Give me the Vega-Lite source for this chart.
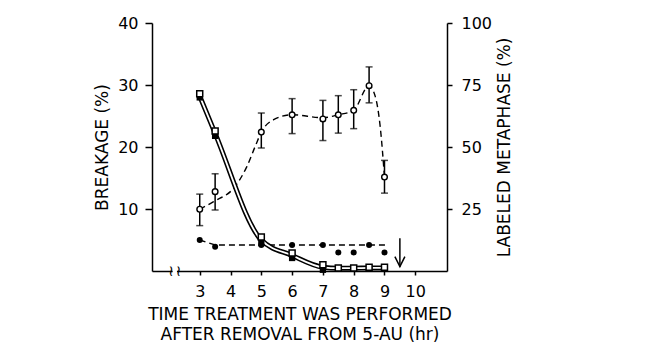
{
  "$schema": "https://vega.github.io/schema/vega-lite/v6.json",
  "width": 295,
  "height": 248,
  "autosize": "none",
  "padding": {"left": 152, "top": 23, "right": 219, "bottom": 79},
  "background": "white",
  "config": {
    "view": {"stroke": null},
    "font": "DejaVu Sans",
    "axis": {
      "grid": false,
      "domainColor": "black",
      "tickColor": "black",
      "labelColor": "black",
      "titleColor": "black",
      "domainWidth": 1.5,
      "tickWidth": 1.5,
      "labelFont": "DejaVu Sans",
      "titleFont": "DejaVu Sans",
      "labelFontSize": 16,
      "titleFontSize": 17,
      "titleFontWeight": "normal"
    }
  },
  "datasets": {
    "labeled": [
      {"t": 3, "m": 24.9, "lo": 18.3, "hi": 31.0},
      {"t": 3.5, "m": 32.0, "lo": 24.6, "hi": 39.2},
      {"t": 5, "m": 56.0, "lo": 49.6, "hi": 63.7},
      {"t": 6, "m": 63.0, "lo": 55.4, "hi": 69.5},
      {"t": 7, "m": 61.3, "lo": 52.6, "hi": 68.8},
      {"t": 7.5, "m": 63.0, "lo": 55.6, "hi": 70.7},
      {"t": 8, "m": 64.8, "lo": 57.4, "hi": 73.1},
      {"t": 8.5, "m": 74.7, "lo": 67.8, "hi": 82.3},
      {"t": 9, "m": 37.9, "lo": 31.4, "hi": 44.6}
    ],
    "labeledCurve": [
      {"t": 3, "m": 24.9},
      {"t": 3.45, "m": 28.0},
      {"t": 4.15, "m": 34.1},
      {"t": 4.53, "m": 42.1},
      {"t": 4.8, "m": 50.2},
      {"t": 5, "m": 56.0},
      {"t": 5.4, "m": 61.0},
      {"t": 6, "m": 63.0},
      {"t": 7, "m": 61.8},
      {"t": 7.5, "m": 63.0},
      {"t": 8, "m": 64.8},
      {"t": 8.5, "m": 74.7},
      {"t": 8.7, "m": 70.4},
      {"t": 8.86, "m": 58.3},
      {"t": 9, "m": 37.9}
    ],
    "squares": [
      {"t": 3, "open": 28.6, "filled": 28.0, "line": 28.2},
      {"t": 3.5, "open": 22.6, "filled": 21.8, "line": 22.2},
      {"t": 5, "open": 5.5, "filled": 4.5, "line": 5.0},
      {"t": 6, "open": 2.9, "filled": 2.1, "line": 2.5},
      {"t": 7, "open": 1.0, "filled": 0.2, "line": 0.6},
      {"t": 7.5, "open": 0.5, "filled": 0.4, "line": 0.45},
      {"t": 8, "open": 0.5, "filled": 0.4, "line": 0.45},
      {"t": 8.5, "open": 0.6, "filled": 0.5, "line": 0.5},
      {"t": 9, "open": 0.6, "filled": 0.4, "line": 0.5}
    ],
    "dots": [
      {"t": 3, "b": 5.0},
      {"t": 3.5, "b": 3.9},
      {"t": 5, "b": 4.2},
      {"t": 6, "b": 4.2},
      {"t": 7, "b": 4.2},
      {"t": 7.5, "b": 3.0},
      {"t": 8, "b": 3.0},
      {"t": 8.5, "b": 4.2},
      {"t": 9, "b": 3.0}
    ],
    "dotsFit": [
      {"t": 3, "b": 5.0},
      {"t": 3.5, "b": 4.2},
      {"t": 9.05, "b": 4.2}
    ],
    "arrow": [{"t": 9.5, "top": 5.3, "tip": 0.7}],
    "axisBreak": [{"t": 2.07}, {"t": 2.31}],
    "breakGap": [{"t0": 2.12, "t1": 2.26, "b0": -0.4, "b1": 0.4}]
  },
  "encoding": {
    "x": {
      "field": "t",
      "type": "quantitative",
      "scale": {"domain": [1.45, 11.03], "nice": false, "zero": false},
      "axis": {
        "values": [3, 4, 5, 6, 7, 8, 9, 10],
        "tickSize": 4,
        "labelPadding": 8,
        "labelFlush": false,
        "title": ["TIME TREATMENT WAS PERFORMED", "AFTER REMOVAL FROM 5-AU (hr)"],
        "titleLineHeight": 20,
        "titlePadding": 7
      }
    }
  },
  "layer": [
    {
      "layer": [
        {
          "data": {"name": "labeledCurve"},
          "mark": {"type": "line", "interpolate": "monotone", "color": "black", "strokeWidth": 1.4, "strokeDash": [6, 4]},
          "encoding": {
            "y": {"field": "m", "type": "quantitative", "scale": {"domain": [0, 100], "nice": false},
              "axis": {"orient": "right", "values": [25, 50, 75, 100], "tickSize": 5, "labelPadding": 9, "title": "LABELED METAPHASE (%)", "titleAngle": 270, "titleBaseline": "top", "titlePadding": 5}}
          }
        },
        {
          "data": {"name": "labeled"},
          "mark": {"type": "rule", "color": "black", "strokeWidth": 1.5},
          "encoding": {
            "y": {"field": "lo", "type": "quantitative", "scale": {"domain": [0, 100], "nice": false},
              "axis": {"orient": "right", "values": [25, 50, 75, 100], "tickSize": 5, "labelPadding": 9, "title": "LABELED METAPHASE (%)", "titleAngle": 270, "titleBaseline": "top", "titlePadding": 5}},
            "y2": {"field": "hi"}
          }
        },
        {
          "data": {"name": "labeled"},
          "mark": {"type": "tick", "orient": "horizontal", "color": "black", "size": 7, "thickness": 1.5},
          "encoding": {
            "y": {"field": "lo", "type": "quantitative", "scale": {"domain": [0, 100], "nice": false},
              "axis": {"orient": "right", "values": [25, 50, 75, 100], "tickSize": 5, "labelPadding": 9, "title": "LABELED METAPHASE (%)", "titleAngle": 270, "titleBaseline": "top", "titlePadding": 5}}
          }
        },
        {
          "data": {"name": "labeled"},
          "mark": {"type": "tick", "orient": "horizontal", "color": "black", "size": 7, "thickness": 1.5},
          "encoding": {
            "y": {"field": "hi", "type": "quantitative", "scale": {"domain": [0, 100], "nice": false},
              "axis": {"orient": "right", "values": [25, 50, 75, 100], "tickSize": 5, "labelPadding": 9, "title": "LABELED METAPHASE (%)", "titleAngle": 270, "titleBaseline": "top", "titlePadding": 5}}
          }
        },
        {
          "data": {"name": "labeled"},
          "mark": {"type": "point", "shape": "circle", "filled": true, "fill": "white", "stroke": "black", "strokeWidth": 1.4, "size": 32, "opacity": 1},
          "encoding": {
            "y": {"field": "m", "type": "quantitative", "scale": {"domain": [0, 100], "nice": false},
              "axis": {"orient": "right", "values": [25, 50, 75, 100], "tickSize": 5, "labelPadding": 9, "title": "LABELED METAPHASE (%)", "titleAngle": 270, "titleBaseline": "top", "titlePadding": 5}}
          }
        }
      ]
    },
    {
      "layer": [
        {
          "data": {"name": "dotsFit"},
          "mark": {"type": "line", "color": "black", "strokeWidth": 1.4, "strokeDash": [6, 4]},
          "encoding": {
            "y": {"field": "b", "type": "quantitative", "scale": {"domain": [0, 40], "nice": false},
              "axis": {"orient": "left", "values": [10, 20, 30, 40], "tickSize": 7, "labelPadding": 7, "title": "BREAKAGE (%)", "titlePadding": 6}}
          }
        },
        {
          "data": {"name": "dots"},
          "mark": {"type": "point", "shape": "circle", "filled": true, "color": "black", "size": 36, "opacity": 1},
          "encoding": {
            "y": {"field": "b", "type": "quantitative", "scale": {"domain": [0, 40], "nice": false},
              "axis": {"orient": "left", "values": [10, 20, 30, 40], "tickSize": 7, "labelPadding": 7, "title": "BREAKAGE (%)", "titlePadding": 6}}
          }
        },
        {
          "data": {"name": "squares"},
          "mark": {"type": "line", "interpolate": "monotone", "color": "black", "strokeWidth": 5},
          "encoding": {
            "y": {"field": "line", "type": "quantitative", "scale": {"domain": [0, 40], "nice": false},
              "axis": {"orient": "left", "values": [10, 20, 30, 40], "tickSize": 7, "labelPadding": 7, "title": "BREAKAGE (%)", "titlePadding": 6}}
          }
        },
        {
          "data": {"name": "squares"},
          "mark": {"type": "line", "interpolate": "monotone", "color": "white", "strokeWidth": 1.8},
          "encoding": {
            "y": {"field": "line", "type": "quantitative", "scale": {"domain": [0, 40], "nice": false},
              "axis": {"orient": "left", "values": [10, 20, 30, 40], "tickSize": 7, "labelPadding": 7, "title": "BREAKAGE (%)", "titlePadding": 6}}
          }
        },
        {
          "data": {"name": "squares"},
          "mark": {"type": "point", "shape": "square", "filled": true, "color": "black", "size": 40, "opacity": 1},
          "encoding": {
            "y": {"field": "filled", "type": "quantitative", "scale": {"domain": [0, 40], "nice": false},
              "axis": {"orient": "left", "values": [10, 20, 30, 40], "tickSize": 7, "labelPadding": 7, "title": "BREAKAGE (%)", "titlePadding": 6}}
          }
        },
        {
          "data": {"name": "squares"},
          "mark": {"type": "point", "shape": "square", "filled": true, "fill": "white", "stroke": "black", "strokeWidth": 1.5, "size": 36, "opacity": 1},
          "encoding": {
            "y": {"field": "open", "type": "quantitative", "scale": {"domain": [0, 40], "nice": false},
              "axis": {"orient": "left", "values": [10, 20, 30, 40], "tickSize": 7, "labelPadding": 7, "title": "BREAKAGE (%)", "titlePadding": 6}}
          }
        },
        {
          "data": {"name": "arrow"},
          "mark": {"type": "rule", "color": "black", "strokeWidth": 1.5},
          "encoding": {
            "y": {"field": "top", "type": "quantitative", "scale": {"domain": [0, 40], "nice": false},
              "axis": {"orient": "left", "values": [10, 20, 30, 40], "tickSize": 7, "labelPadding": 7, "title": "BREAKAGE (%)", "titlePadding": 6}},
            "y2": {"field": "tip"}
          }
        },
        {
          "data": {"name": "arrow"},
          "mark": {"type": "point", "shape": "M-1,-2L0,0L1,-2", "filled": false, "color": "black", "strokeWidth": 1.5, "size": 100, "opacity": 1},
          "encoding": {
            "y": {"field": "tip", "type": "quantitative", "scale": {"domain": [0, 40], "nice": false},
              "axis": {"orient": "left", "values": [10, 20, 30, 40], "tickSize": 7, "labelPadding": 7, "title": "BREAKAGE (%)", "titlePadding": 6}}
          }
        },
        {
          "data": {"name": "breakGap"},
          "mark": {"type": "rect", "color": "white"},
          "encoding": {
            "x": {"field": "t0", "type": "quantitative"},
            "x2": {"field": "t1"},
            "y": {"field": "b0", "type": "quantitative", "scale": {"domain": [0, 40], "nice": false},
              "axis": {"orient": "left", "values": [10, 20, 30, 40], "tickSize": 7, "labelPadding": 7, "title": "BREAKAGE (%)", "titlePadding": 6}},
            "y2": {"field": "b1"}
          }
        },
        {
          "data": {"name": "axisBreak"},
          "mark": {"type": "text", "text": "≀", "fontSize": 15, "color": "black", "baseline": "middle", "align": "center"},
          "encoding": {
            "y": {"datum": 0, "type": "quantitative", "scale": {"domain": [0, 40], "nice": false},
              "axis": {"orient": "left", "values": [10, 20, 30, 40], "tickSize": 7, "labelPadding": 7, "title": "BREAKAGE (%)", "titlePadding": 6}}
          }
        }
      ]
    }
  ],
  "resolve": {"scale": {"y": "independent"}}
}
